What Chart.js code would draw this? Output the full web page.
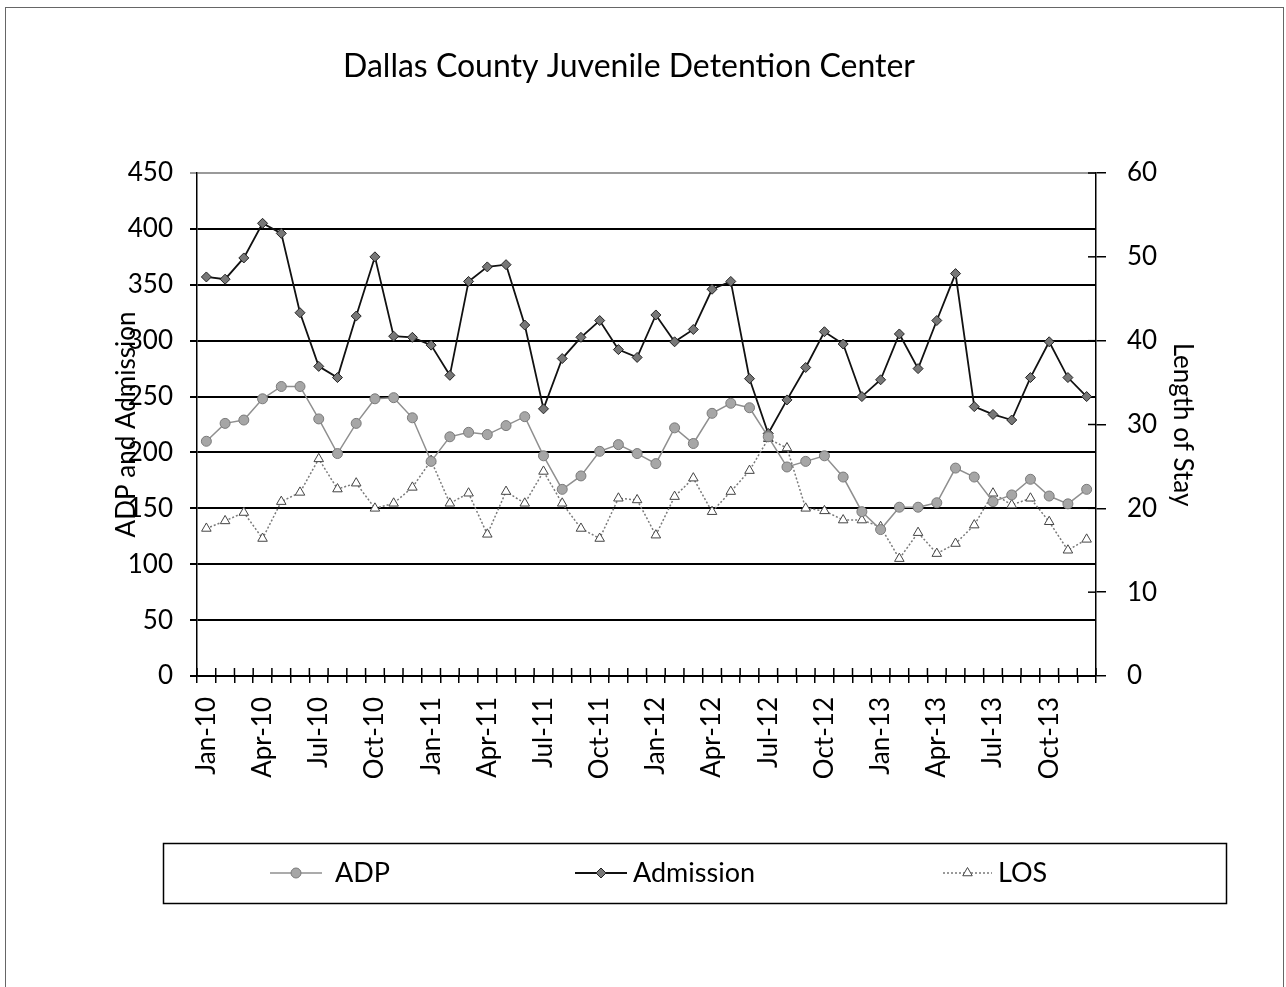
<!DOCTYPE html>
<html>
<head>
<meta charset="utf-8">
<script src="https://cdn.jsdelivr.net/npm/chart.js@4.4.1/dist/chart.umd.min.js"></script>
<style>
html,body{margin:0;padding:0;background:#fff;}
#wrap{width:1286px;height:987px;}
</style>
</head>
<body>
<div id="wrap"><canvas id="c" width="1286" height="987"></canvas></div>
<script>
const chartTitle = 'Dallas County Juvenile Detention Center';
const months = ['Jan-10','Feb-10','Mar-10','Apr-10','May-10','Jun-10','Jul-10','Aug-10','Sep-10','Oct-10','Nov-10','Dec-10',
'Jan-11','Feb-11','Mar-11','Apr-11','May-11','Jun-11','Jul-11','Aug-11','Sep-11','Oct-11','Nov-11','Dec-11',
'Jan-12','Feb-12','Mar-12','Apr-12','May-12','Jun-12','Jul-12','Aug-12','Sep-12','Oct-12','Nov-12','Dec-12',
'Jan-13','Feb-13','Mar-13','Apr-13','May-13','Jun-13','Jul-13','Aug-13','Sep-13','Oct-13','Nov-13','Dec-13'];
const adp = [210,226,229,248,259,259,230,199,226,248,249,231,192,214,218,216,224,232,197,167,179,201,207,199,
190,222,208,235,244,240,214,187,192,197,178,147,131,151,151,155,186,178,156,162,176,161,154,167];
const admission = [357,355,374,405,396,325,277,267,322,375,304,303,296,269,353,366,368,314,239,284,303,318,292,285,
323,299,310,346,353,266,217,247,276,308,297,250,265,306,275,318,360,241,234,229,267,299,267,250];
const los = [17.6,18.5,19.5,16.4,20.8,21.9,25.9,22.3,23.0,20.0,20.6,22.5,25.7,20.6,21.8,16.9,22.0,20.6,24.4,20.6,17.6,16.4,21.2,21.0,
16.8,21.4,23.6,19.6,22.0,24.5,28.3,27.2,20.0,19.7,18.6,18.6,17.8,14.0,17.1,14.6,15.8,18.0,21.8,20.4,21.2,18.4,15.0,16.3];
const leftTitle = 'ADP and Admission';
const rightTitle = 'Length of Stay';

Chart.defaults.font.family = 'Lato, "Open Sans", sans-serif';
Chart.defaults.font.size = 26;
Chart.defaults.color = '#000';

const deco = {
  id: 'deco',
  afterDraw(chart) {
    const ctx = chart.ctx, a = chart.chartArea, y1 = chart.scales.y1;
    ctx.save();
    ctx.strokeStyle = '#000';
    ctx.lineWidth = 1.5;
    const n = chart.data.labels.length, w = (a.right - a.left) / n;
    for (let i = 0; i <= n; i++) {
      const x = a.left + i * w;
      ctx.beginPath(); ctx.moveTo(x, a.bottom - 8); ctx.lineTo(x, a.bottom); ctx.stroke();
    }
    y1.ticks.forEach((t, i) => {
      const y = y1.getPixelForTick(i);
      ctx.beginPath(); ctx.moveTo(a.right - 8, y); ctx.lineTo(a.right, y); ctx.stroke();
    });
    // title
    ctx.fillStyle = '#000';
    ctx.font = '32px Lato, "Open Sans", sans-serif';
    ctx.textAlign = 'center';
    ctx.textBaseline = 'middle';
    ctx.fillText(chartTitle, 629, 67);
    // legend
    ctx.lineWidth = 1.5;
    ctx.strokeStyle = '#000';
    ctx.strokeRect(163.5, 843.5, 1063, 60);
    const items = [
      {ds: 0, x0: 270, x1: 322, tx: 335},
      {ds: 1, x0: 575, x1: 627, tx: 633},
      {ds: 2, x0: 943, x1: 992, tx: 998}
    ];
    const ly = 873;
    ctx.font = '27px Lato, "Open Sans", sans-serif';
    ctx.textAlign = 'left';
    items.forEach(it => {
      const d = chart.data.datasets[it.ds];
      ctx.save();
      ctx.strokeStyle = d.borderColor;
      ctx.lineWidth = d.borderWidth;
      ctx.setLineDash(d.borderDash || []);
      ctx.beginPath(); ctx.moveTo(it.x0, ly); ctx.lineTo(it.x1, ly); ctx.stroke();
      ctx.setLineDash([]);
      ctx.fillStyle = d.pointBackgroundColor;
      ctx.strokeStyle = d.pointBorderColor;
      ctx.lineWidth = d.pointBorderWidth;
      Chart.helpers.drawPoint(ctx, {pointStyle: d.pointStyle, radius: d.pointRadius, rotation: 0, borderWidth: d.pointBorderWidth}, (it.x0 + it.x1) / 2, ly);
      ctx.restore();
      ctx.fillStyle = '#000';
      ctx.fillText(d.label, it.tx, ly);
    });
    // outer frame
    ctx.strokeStyle = '#666';
    ctx.lineWidth = 1;
    ctx.strokeRect(5.5, 7.5, 1278, 990);
    ctx.restore();
  }
};

new Chart(document.getElementById('c'), {
  type: 'line',
  data: {
    labels: months,
    datasets: [
      {
        label: 'ADP', data: adp, yAxisID: 'y',
        borderColor: '#8f8f8f', borderWidth: 1.5,
        pointStyle: 'circle', pointRadius: 5,
        pointBackgroundColor: '#a6a6a6', pointBorderColor: '#7a7a7a', pointBorderWidth: 1,
        tension: 0
      },
      {
        label: 'Admission', data: admission, yAxisID: 'y',
        borderColor: '#111', borderWidth: 1.8,
        pointStyle: 'rectRot', pointRadius: 5,
        pointBackgroundColor: '#777', pointBorderColor: '#222', pointBorderWidth: 1,
        tension: 0
      },
      {
        label: 'LOS', data: los, yAxisID: 'y1',
        borderColor: '#7a7a7a', borderWidth: 1.5, borderDash: [2, 2],
        pointStyle: 'triangle', pointRadius: 5.5,
        pointBackgroundColor: '#fff', pointBorderColor: '#444', pointBorderWidth: 1,
        tension: 0
      }
    ]
  },
  options: {
    responsive: false,
    animation: false,
    devicePixelRatio: 1,
    layout: {padding: {top: 173, bottom: 201, left: 0, right: 0}},
    plugins: {legend: {display: false}, title: {display: false}, tooltip: {enabled: false}},
    scales: {
      x: {
        type: 'category',
        offset: true,
        afterFit(s) { s.height = 110; },
        grid: {drawOnChartArea: false, drawTicks: true, tickLength: 7, color: '#000', lineWidth: 1.5, offset: true},
        border: {display: true, color: '#000', width: 1.5},
        ticks: {
          autoSkip: false, minRotation: 90, maxRotation: 90, padding: 14,
          callback(v, i) { return i % 3 === 0 ? months[i] : ''; }
        }
      },
      y: {
        position: 'left', min: 0, max: 450,
        afterFit(s) { s.width = 197; },
        ticks: {stepSize: 50, padding: 17},
        grid: {
          color: c => (c.tick && c.tick.value === 450) ? '#9a9a9a' : '#000',
          lineWidth: 2, tickLength: 7
        },
        border: {display: true, color: '#000', width: 1.5},
        title: {display: true, text: leftTitle, padding: {top: 111, bottom: 0}}
      },
      y1: {
        position: 'right', min: 0, max: 60,
        afterFit(s) { s.width = 190; },
        ticks: {stepSize: 10, padding: 21},
        grid: {drawOnChartArea: false, color: '#000', lineWidth: 1.5, tickLength: 10},
        border: {display: true, color: '#000', width: 1.5},
        title: {display: true, text: rightTitle, padding: {top: 88, bottom: 0}}
      }
    }
  },
  plugins: [deco]
});
</script>
</body>
</html>
